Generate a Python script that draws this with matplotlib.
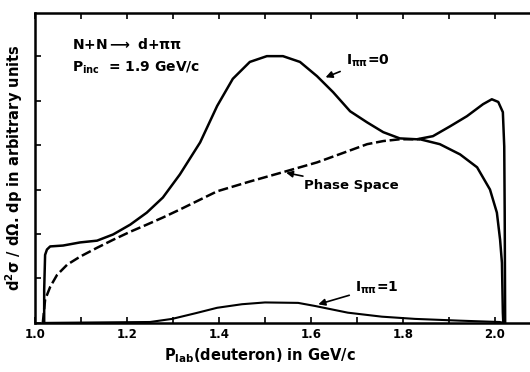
import matplotlib.pyplot as plt
from matplotlib.ticker import MultipleLocator, NullFormatter

# I_pipi = 0 curve
i0_x = [1.020, 1.020, 1.022, 1.026, 1.033, 1.061, 1.098, 1.135, 1.170, 1.207, 1.243,
        1.278, 1.315, 1.359, 1.396, 1.430, 1.467, 1.504, 1.539, 1.576, 1.613, 1.648,
        1.685, 1.722, 1.757, 1.793, 1.830, 1.865, 1.902, 1.939, 1.974, 1.993, 2.007,
        2.017, 2.020, 2.021, 2.022]
i0_y = [0.0, 0.74, 1.53, 1.65, 1.72, 1.74, 1.81, 1.85, 1.99, 2.21, 2.48,
        2.82, 3.34, 4.06, 4.88, 5.49, 5.87, 6.00, 6.00, 5.87, 5.55, 5.19,
        4.76, 4.51, 4.29, 4.15, 4.13, 4.20, 4.42, 4.65, 4.92, 5.03, 4.97,
        4.74, 3.97, 2.48, 0.0]

# phase space: dashed part, then solid part after it meets I=0
ps_x = [1.017, 1.022, 1.033, 1.048, 1.070, 1.098, 1.135, 1.170, 1.207, 1.243, 1.278,
        1.315, 1.396, 1.467, 1.539, 1.613, 1.685, 1.722, 1.757, 1.793, 1.837]
ps_y = [0.0, 0.52, 0.81, 1.08, 1.31, 1.49, 1.69, 1.87, 2.05, 2.21, 2.37,
        2.55, 2.96, 3.18, 3.39, 3.61, 3.88, 4.02, 4.09, 4.13, 4.13]
ps2_x = [1.837, 1.880, 1.924, 1.961, 1.989, 2.004, 2.011, 2.015, 2.017, 2.018]
ps2_y = [4.13, 4.02, 3.79, 3.50, 3.00, 2.48, 1.87, 1.35, 0.23, 0.0]

# I_pipi = 1 curve
i1_x = [1.017, 1.25, 1.298, 1.35, 1.396, 1.45, 1.5, 1.572, 1.609, 1.68, 1.754,
        1.826, 1.924, 2.01, 2.02]
i1_y = [0.0, 0.02, 0.09, 0.22, 0.34, 0.42, 0.46, 0.45, 0.38, 0.23, 0.14,
        0.09, 0.05, 0.02, 0.0]

xtick_vals = [1.0, 1.2, 1.4, 1.6, 1.8, 2.0]
xtick_text = ['1.0', '1.2', '1.4', '1.6', '1.8', '2.0']

plt.rcParams['font.family'] = 'DejaVu Sans'
plt.rcParams['font.weight'] = 'bold'
plt.rcParams['mathtext.default'] = 'bf'

fig = plt.figure(figsize=(5.3, 3.72), dpi=100)
ax = fig.add_axes([0.066, 0.132, 0.934, 0.833])

ax.plot(i0_x, i0_y, color='black', lw=1.8, solid_joinstyle='round')
ax.plot(ps_x, ps_y, color='black', lw=1.8, dashes=(4, 1.5))
ax.plot(ps2_x, ps2_y, color='black', lw=1.8)
ax.plot(i1_x, i1_y, color='black', lw=1.5)

ax.set_xlim(1.0, 2.076)
ax.set_ylim(0, 6.97)
ax.xaxis.set_minor_locator(MultipleLocator(0.1))
ax.yaxis.set_major_locator(MultipleLocator(1))
ax.yaxis.set_major_formatter(NullFormatter())
ax.set_xticks(xtick_vals)
ax.set_xticklabels(xtick_text, fontsize=8.5, fontweight='bold')
ax.tick_params(axis='x', which='both', direction='in', top=True, length=4, width=1.2, pad=4)
ax.tick_params(axis='y', which='both', direction='in', length=4, width=1.2)
ax.spines['right'].set_visible(False)
for s in ['left', 'top', 'bottom']:
    ax.spines[s].set_linewidth(1.8)

ax.set_xlabel(r'P$_{lab}$(deuteron) in GeV/c', fontsize=10.5, fontweight='bold', labelpad=2)
ax.xaxis.set_label_coords(0.455, -0.075)
ax.set_ylabel(r'd$^2\sigma$ / d$\Omega$. dp in arbitrary units', fontsize=10.5,
              fontweight='bold', labelpad=4)

ax.text(0.075, 0.885, r'N+N$\longrightarrow$ d+$\pi\pi$', transform=ax.transAxes,
        fontsize=10, fontweight='bold')
ax.text(0.075, 0.81, r'P$_{inc}$  = 1.9 GeV/c', transform=ax.transAxes,
        fontsize=10, fontweight='bold')

ax.annotate(r'I$_{\pi\pi}$=0', xy=(1.626, 5.5), xytext=(1.675, 5.9), fontsize=10,
            fontweight='bold', va='center',
            arrowprops=dict(arrowstyle='-|>', color='black', lw=1.2))
ax.annotate('Phase Space', xy=(1.54, 3.39), xytext=(1.585, 3.08), fontsize=9.5,
            fontweight='bold', va='center',
            arrowprops=dict(arrowstyle='-|>', color='black', lw=1.2))
ax.annotate(r'I$_{\pi\pi}$=1', xy=(1.61, 0.4), xytext=(1.695, 0.8), fontsize=10,
            fontweight='bold', va='center',
            arrowprops=dict(arrowstyle='-|>', color='black', lw=1.2))

fig.savefig('out.png', dpi=100)
